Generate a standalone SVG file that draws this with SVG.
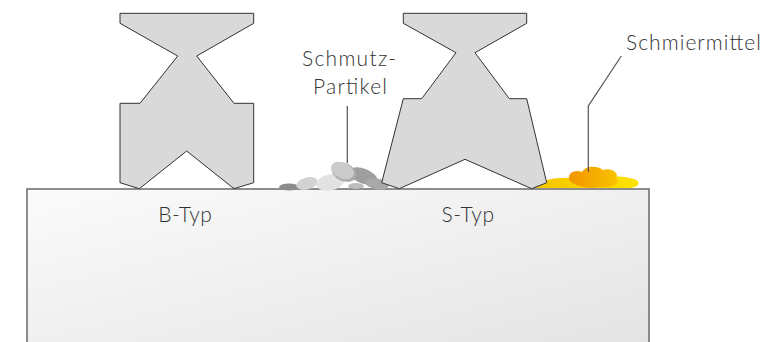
<svg xmlns="http://www.w3.org/2000/svg" width="763" height="342" viewBox="0 0 763 342">
  <style>
    .seal { fill: #d9d9d9; stroke: #333333; stroke-width: 1; stroke-linejoin: miter; }
    .label { font-family: "Lato", "Open Sans", "DejaVu Sans", sans-serif; font-weight: 300; font-size: 21px; fill: #333333; }
    .leader { fill: none; stroke: #555555; stroke-width: 1.2; }
  </style>
  <defs>
    <linearGradient id="blockFill" x1="0" y1="0" x2="1" y2="1">
      <stop offset="0" stop-color="#fbfbfb"/>
      <stop offset="1" stop-color="#e4e4e4"/>
    </linearGradient>
    <linearGradient id="lubeYellow" x1="0" y1="0" x2="1" y2="0">
      <stop offset="0" stop-color="#f5c400"/>
      <stop offset="1" stop-color="#fde300"/>
    </linearGradient>
    <linearGradient id="lubeOrange" x1="0" y1="0" x2="1" y2="0">
      <stop offset="0" stop-color="#f29400"/>
      <stop offset="1" stop-color="#f8c400"/>
    </linearGradient>
  </defs>

  <!-- sliding surface -->
  <g id="surface">
    <path d="M27 343 V189 H649 V343" fill="url(#blockFill)" stroke="#6a6a6a" stroke-width="1.5"/>
  </g>

  <!-- dirt particles -->
  <g id="particles">
    <ellipse cx="289" cy="187" rx="10" ry="3.5" fill="#8c8c8c"/>
    <ellipse cx="307" cy="183.5" rx="11" ry="6" fill="#d2d2d2" transform="rotate(-15 307 183.5)"/>
    <ellipse cx="363" cy="176" rx="15" ry="7.5" fill="#9e9e9e" transform="rotate(20 363 176)"/>
    <ellipse cx="377" cy="184" rx="12" ry="5.5" fill="#a8a8a8" transform="rotate(10 377 184)"/>
    <ellipse cx="330" cy="182.5" rx="14" ry="8" fill="#e2e2e2" transform="rotate(-10 330 182.5)"/>
    <ellipse cx="356" cy="186" rx="8" ry="3" fill="#bdbdbd"/>
    <ellipse cx="344" cy="172" rx="13" ry="9" fill="#aaaaaa" transform="rotate(25 344 172)"/>
    <ellipse cx="342.5" cy="170.5" rx="12" ry="8" fill="#cbcbcb" transform="rotate(25 342.5 170.5)"/>
  </g>

  <!-- lubricant -->
  <g id="lubricant">
    <path d="M532 188 C540 180 555 177 575 178 C595 176 615 175 630 178 C642 180 641 187 630 188 Z" fill="url(#lubeYellow)"/>
    <path d="M570 181 C566 173 575 169 582 172 C585 166 597 165 603 170 C611 167 620 173 616 179 C622 183 613 188 600 187 C589 189 576 187 570 181 Z" fill="url(#lubeOrange)"/>
  </g>

  <!-- B-type seal -->
  <g id="b-typ">
    <polygon class="seal" points="120,13.3 253.7,13.3 253.7,23.3 196.7,56 234,103.3 253.7,103.3 253.7,182.7 234,188.7 186.7,151 139.3,188.7 120,182.7 120,103.3 140,103.3 177.7,56 120,23.3"/>
  </g>

  <!-- S-type seal -->
  <g id="s-typ">
    <polygon class="seal" points="403.3,13.3 526.7,13.3 526.7,23.3 475,52.7 509.3,98.7 526.7,98.7 546.7,182.7 531.7,188.7 465,159.3 399.3,188.7 381.7,182.7 403.3,98.7 421.7,98.7 456,52.7 403.3,23.3"/>
  </g>

  <!-- leader lines -->
  <g id="connectors">
    <path class="leader" d="M347.3 106 V163"/>
    <path class="leader" d="M621.3 56 L588.3 106 V172"/>
  </g>

  <!-- labels -->
  <g id="labels">
    <text class="label" x="302" y="66" textLength="94">Schmutz-</text>
    <text class="label" x="313" y="93.5" textLength="74">Partikel</text>
    <text class="label" x="626" y="50" textLength="135">Schmiermittel</text>
    <text class="label" x="158.3" y="221.5" textLength="53.5">B-Typ</text>
    <text class="label" x="441.5" y="221.5" textLength="52.5">S-Typ</text>
  </g>
</svg>
